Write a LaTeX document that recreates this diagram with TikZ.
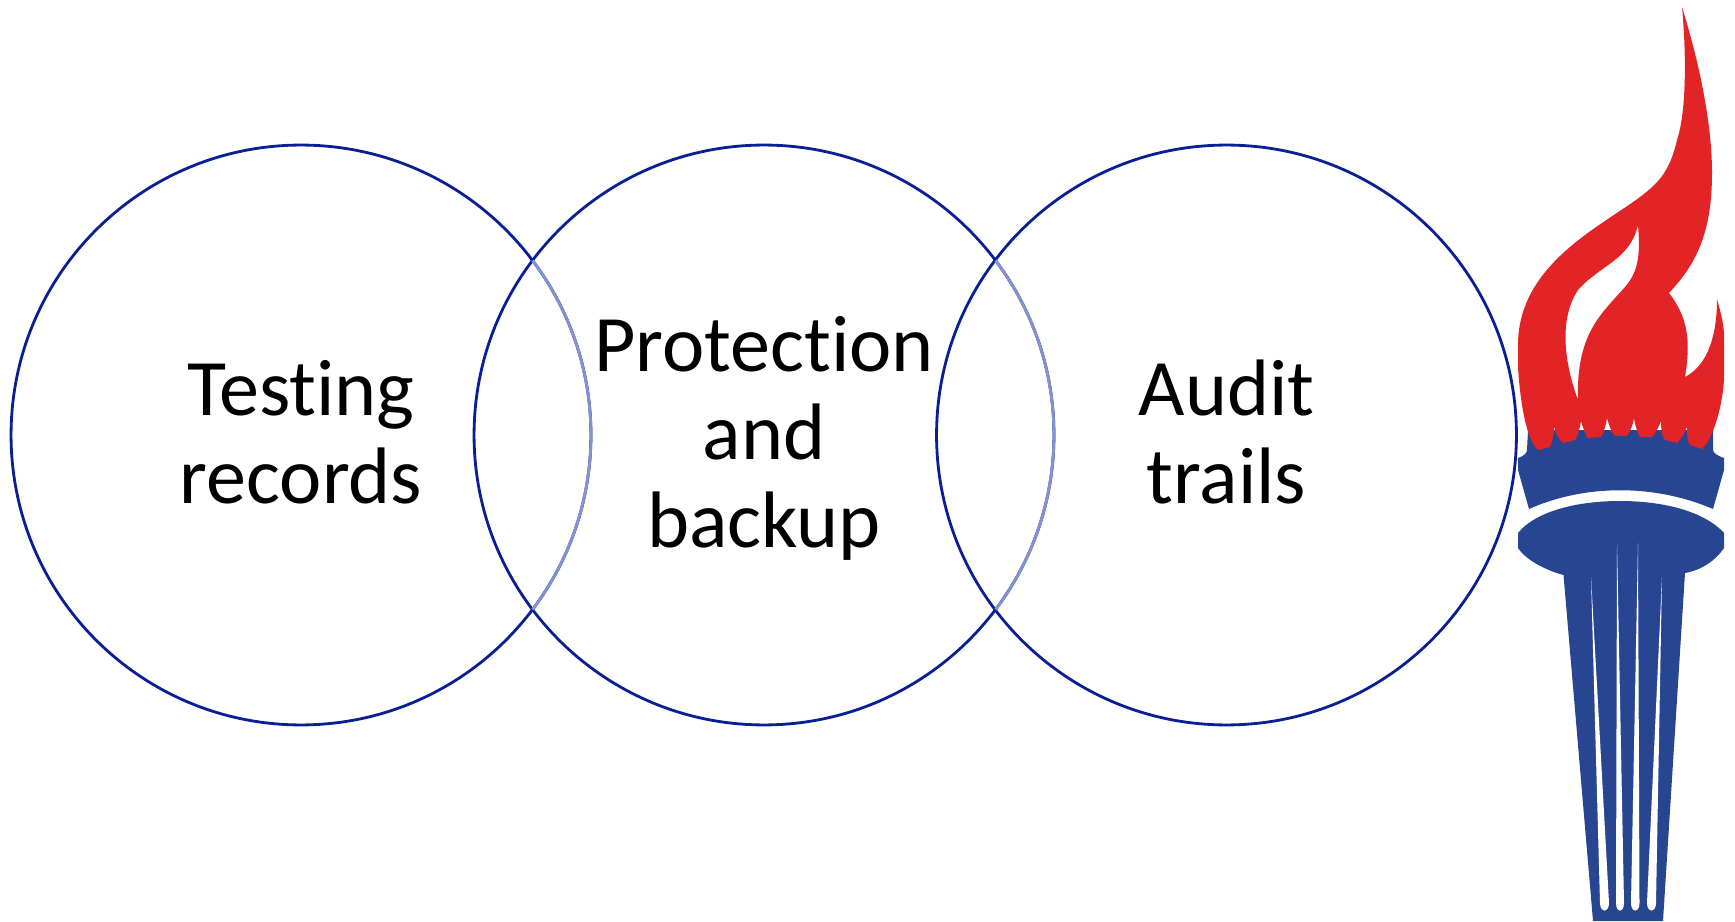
\documentclass[tikz,border=0pt]{standalone}
\usepackage{fontspec}
\setmainfont[Ligatures=NoCommon]{Carlito}
\definecolor{ringblue}{HTML}{0A1F96}
\definecolor{ringpale}{HTML}{8492CF}
\definecolor{torchblue}{HTML}{284591}
\definecolor{flamered}{HTML}{E32427}
\newcommand{\ringstrut}{\rule{0pt}{39.7pt}}
\tikzset{
  ring/.style={circle,draw=ringblue,line width=1.6pt,minimum size=11.6cm,inner sep=0pt,outer sep=0pt,
    align=center,font=\fontsize{45.6}{50}\selectfont,
    execute at end node={\rule[-12pt]{0pt}{12pt}}},
  palearc/.style={draw=ringpale,line width=1.6pt}
}
\begin{document}
\begin{tikzpicture}[x=0.02cm,y=-0.02cm]
  \useasboundingbox (0,0) rectangle (1735,922);
  \node[ring] (testing) at (301,435) {\ringstrut Testing\\records};
  \node[ring] (protection) at (764,435) {\ringstrut Protection\\and\\backup};
  \node[ring] (audit) at (1226.5,435) {\ringstrut Audit\\trails};
  \draw[palearc] (testing.-37) arc (-37:37:5.8cm);
  \draw[palearc] (protection.-37) arc (-37:37:5.8cm);
  % torch
  \fill[torchblue] (1528,430) -- (1527,450) .. controls (1527,453) and (1524,456) .. (1518,458)
    -- (1518,470) -- (1529,509) .. controls (1585,484) and (1655,484) .. (1713,509)
    -- (1724,470) -- (1724,458) .. controls (1718,456) and (1713,453) .. (1713,450) -- (1713,430) -- cycle;
  \fill[torchblue] (1620,501) .. controls (1575,501) and (1535,512) .. (1518,533) -- (1518,548)
    .. controls (1526,560) and (1545,570) .. (1563.5,575) -- (1593,921) -- (1663,921) -- (1685,573)
    .. controls (1702,570) and (1716,560) .. (1724,548) -- (1724,533)
    .. controls (1705,512) and (1665,501) .. (1620,501) -- cycle;
  % slits
  \fill[white] (1591,577) -- (1600,903) .. controls (1600,913) and (1609,913) .. (1609,903) -- cycle;
  \fill[white] (1617,543) -- (1616,903) .. controls (1616,913) and (1624,913) .. (1624,903) -- cycle;
  \fill[white] (1638,543) -- (1631,903) .. controls (1631,913) and (1639.5,913) .. (1639.5,903) -- cycle;
  \fill[white] (1662,577) -- (1647,903) .. controls (1647,913) and (1656,913) .. (1656,903) -- cycle;
  % flame
  \fill[flamered,even odd rule] (1682,7) .. controls (1686,50) and (1687,110) .. (1677,140)
    .. controls (1670,170) and (1660,182) .. (1640,197)
    .. controls (1600,227) and (1518,265) .. (1518,345) -- (1518,367)
    .. controls (1520,400) and (1526,440) .. (1538,450) -- (1550,447) .. controls (1553,440) and (1554,433) .. (1554,427)
    .. controls (1556,433) and (1559,440) .. (1563,443) -- (1575,440) .. controls (1578,435) and (1580,428) .. (1581,421)
    .. controls (1583,428) and (1585,434) .. (1588,438) -- (1601,437) .. controls (1604,432) and (1606,425) .. (1607,418)
    .. controls (1609,425) and (1611,432) .. (1615,436) -- (1627,436) .. controls (1630,432) and (1633,425) .. (1634,418)
    .. controls (1635,425) and (1637,432) .. (1640,437) -- (1652,437) .. controls (1655,434) and (1659,427) .. (1661,421)
    .. controls (1661,430) and (1662,436) .. (1665,440) -- (1677,443) .. controls (1681,439) and (1685,433) .. (1687,427)
    .. controls (1687,435) and (1687,441) .. (1690,445) -- (1702,449) .. controls (1712,440) and (1722,410) .. (1724,380)
    -- (1724,333) .. controls (1723,320) and (1720,310) .. (1717,299)
    .. controls (1717,335) and (1708,365) .. (1685,377)
    .. controls (1690,345) and (1690,320) .. (1669,293)
    .. controls (1695,265) and (1712,235) .. (1712,173)
    .. controls (1712,125) and (1700,65) .. (1682,7) -- cycle
    (1638,225) .. controls (1640,250) and (1640,270) .. (1625,287)
    .. controls (1600,315) and (1576,335) .. (1578,400)
    .. controls (1565,365) and (1558,320) .. (1578,290)
    .. controls (1600,265) and (1630,260) .. (1638,225) -- cycle;
\end{tikzpicture}
\end{document}
